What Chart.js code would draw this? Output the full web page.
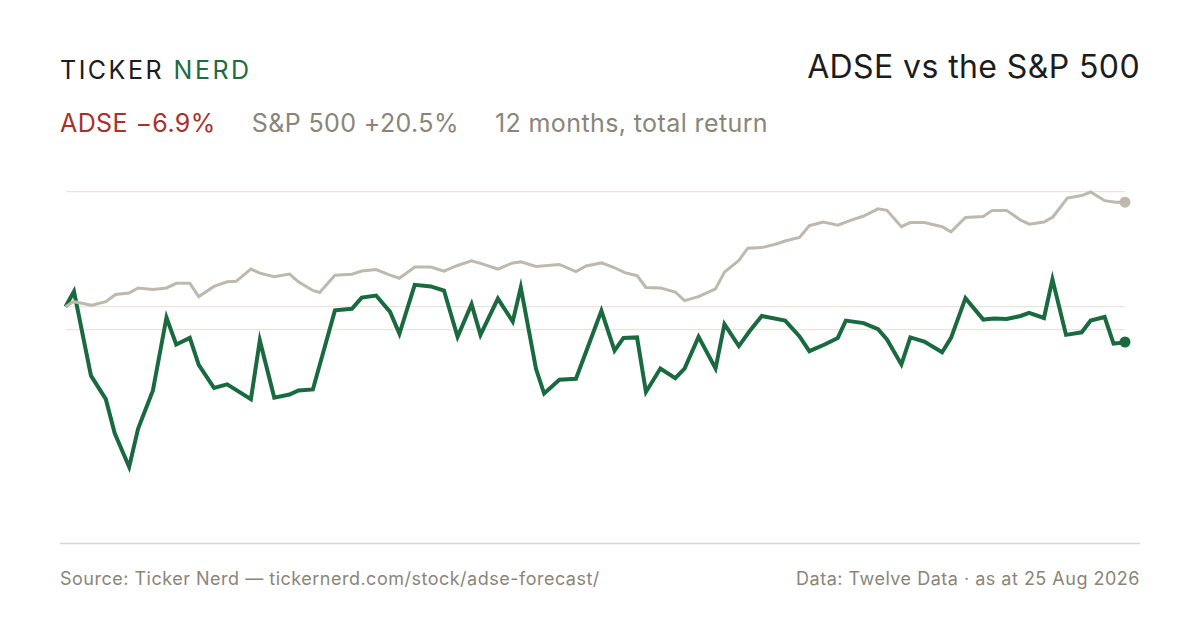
<!DOCTYPE html>
<html>
<head>
<meta charset="utf-8">
<script src="https://cdn.jsdelivr.net/npm/chart.js@4/dist/chart.umd.min.js"></script>
<style>
  body { margin: 0; width: 1200px; height: 630px; background: #fff; font-family: Inter, "Noto Sans", sans-serif; position: relative; overflow: hidden; }
  .logo { position: absolute; left: 60px; top: 55px; font-size: 25px; letter-spacing: 2.5px; color: #1c1c1c; }
  .logo span { color: #1d6b43; }
  .title { position: absolute; right: 60px; top: 47px; font-size: 32px; letter-spacing: 0.4px; color: #1c1c1c; }
  .sub { position: absolute; left: 60px; top: 108px; font-size: 25px; letter-spacing: 0.4px; color: #8b8579; }
  .sub .adse { color: #a8312c; margin-right: 36px; }
  .sub .spx { margin-right: 36px; }
  .foot { position: absolute; top: 568px; font-size: 18px; letter-spacing: 0.5px; color: #8b8579; }
  #wrap { position: absolute; left: 60px; top: 186px; width: 1080px; height: 363px; }
</style>
</head>
<body>
<div class="logo">TICKER <span>NERD</span></div>
<div class="title">ADSE vs the S&amp;P 500</div>
<div class="sub"><span class="adse">ADSE −6.9%</span><span class="spx">S&amp;P 500 +20.5%</span>12 months, total return</div>
<div class="foot" style="left:60px">Source: Ticker Nerd — tickernerd.com/stock/adse-forecast/</div>
<div class="foot" style="right:60px">Data: Twelve Data · as at 25 Aug 2026</div>
<div id="wrap"><canvas id="c"></canvas></div>
<script>
// trading-day index and cumulative total return (%)
const adseDays = [0, 2, 6, 9.5, 11.6, 15, 17.1, 20.6, 23.8, 26.1, 29.3, 31.4, 35, 38.1, 43.7, 45.8, 49.2, 52.8, 54.9, 58.3,
  63.5, 67.5, 69.8, 73.2, 76.5, 78.7, 82.3, 86.1, 89.2, 92.4, 95.7, 97.8, 101.9, 105.4, 107.3, 110.9, 112.8, 116.4, 120.3,
  126.3, 129.4, 131.5, 134.7, 136.8, 140.2, 143.7, 145.9, 149.2, 153.2, 155.3, 158.7, 161.2, 164.1, 169.6, 173, 175.3,
  178.9, 182, 183.9, 188.1, 191.5, 193.6, 197, 199.1, 202.4, 206.6, 208.7, 212.1, 216.3, 218.8, 221.8, 225.1, 227.1,
  230.6, 232.6, 235.8, 239.5, 241.6, 244.9, 247, 248.3, 249.7];
const adseVals = [0, 3.0, -13.5, -18.1, -24.8, -31.4, -23.9, -16.4, -2.1, -7.4, -6.1, -11.4, -15.9, -15.2, -18.1, -6.6, -17.8, -17.2, -16.4, -16.2,
  -0.7, -0.4, 1.8, 2.2, -1.0, -5.3, 4.3, 4.0, 3.2, -5.9, 0.5, -5.5, 1.6, -2.9, 3.8, -12.2, -17.0, -14.3, -14.1,
  -0.8, -8.6, -6.1, -6.0, -16.7, -12.1, -14.0, -12.1, -5.9, -12.1, -3.4, -7.7, -4.8, -1.8, -2.7, -5.8, -8.7,
  -7.4, -6.1, -2.7, -3.2, -4.4, -6.4, -11.3, -6.0, -6.8, -8.9, -6.1, 1.7, -2.5, -2.3, -2.4, -1.8, -1.2,
  -2.2, 5.4, -5.5, -5.0, -2.7, -2.0, -7.2, -7.1, -6.9];
const spxDays = [0, 1.9, 6.2, 9.5, 11.8, 15, 17.1, 20.6, 23.8, 26.1, 29.3, 31.4, 35, 38.1, 40.2, 43.7, 45.8, 49.2, 52.8, 54.9,
  58.3, 59.9, 63.5, 67.5, 69.8, 73.2, 76.5, 78.7, 82.3, 86.1, 89.2, 92.4, 95.7, 97.8, 101.9, 105.4, 107.3, 110.9, 116.4,
  120.3, 122.7, 126.3, 129.3, 131.8, 134.7, 136.8, 140.2, 143.7, 145.9, 149.2, 153.2, 155.3, 158.7, 160.8, 164.1, 167.5,
  170, 173, 175.3, 178.6, 182, 185.2, 188.1, 191.5, 193.6, 197, 199.1, 202.4, 206.6, 208.7, 212.1, 216.3, 218.4, 221.8,
  225.1, 227.2, 230.6, 232.7, 236.1, 239.5, 241.6, 244.9, 247.5, 249.7];
const spxVals = [0, 1.0, 0.3, 1.0, 2.4, 2.7, 3.7, 3.4, 3.7, 4.6, 4.6, 2.0, 4.0, 4.9, 5.0, 7.4, 6.6, 5.9, 6.4, 4.9,
  3.2, 2.8, 6.2, 6.4, 7.0, 7.3, 6.2, 5.6, 7.8, 7.8, 7.0, 8.1, 9.0, 8.5, 7.4, 8.6, 8.8, 7.9, 8.3,
  6.9, 8.0, 8.6, 7.7, 6.7, 6.1, 3.8, 3.7, 2.9, 1.2, 2.0, 3.5, 6.8, 9.1, 11.5, 11.6, 12.3,
  13.0, 13.6, 15.9, 16.6, 16.0, 17.0, 17.8, 19.2, 18.9, 15.7, 16.5, 16.5, 15.7, 14.7, 17.5, 17.7, 18.9, 18.9,
  17.0, 16.2, 16.6, 17.6, 21.3, 21.8, 22.5, 20.8, 20.5, 20.5];
const gridVals = [-4.4, 0, 22.6];
const yMin = -46.4, yMax = 22.6;

const pts = (xs, ys) => xs.map((x, i) => ({ x: x, y: ys[i] }));
const lastDot = (n) => (ctx) => ctx.dataIndex === n - 1 ? 5.5 : 0;

const baseLine = {
  id: 'baseLine',
  beforeDatasetsDraw(chart) {
    const c = chart.ctx, y = chart.scales.y.getPixelForValue(yMin);
    c.save();
    c.strokeStyle = '#dcd7cc';
    c.lineWidth = 1.5;
    c.beginPath();
    c.moveTo(0, y);
    c.lineTo(chart.width, y);
    c.stroke();
    c.restore();
  }
};

new Chart(document.getElementById('c'), {
  type: 'line',
  data: {
    datasets: [
      { label: 'S&P 500', data: pts(spxDays, spxVals), borderColor: '#bfb8ad', backgroundColor: '#bfb8ad',
        borderWidth: 3, pointRadius: lastDot(spxDays.length), pointBorderWidth: 0, tension: 0, clip: false },
      { label: 'ADSE', data: pts(adseDays, adseVals), borderColor: '#1a6a40', backgroundColor: '#1a6a40',
        borderWidth: 4, pointRadius: lastDot(adseDays.length), pointBorderWidth: 0, tension: 0, clip: false }
    ]
  },
  options: {
    animation: false,
    responsive: true,
    maintainAspectRatio: false,
    layout: { padding: { left: 4, right: 15, top: 3, bottom: 1 } },
    plugins: { legend: { display: false }, tooltip: { enabled: false } },
    scales: {
      x: { type: 'linear', min: 0, max: 249.7, display: false },
      y: {
        min: yMin, max: yMax,
        afterBuildTicks: (s) => { s.ticks = gridVals.map(v => ({ value: v })); },
        ticks: { display: false },
        grid: { color: '#e9e5dc', lineWidth: 1.2, drawTicks: false },
        border: { display: false }
      }
    }
  },
  plugins: [baseLine]
});
</script>
</body>
</html>
